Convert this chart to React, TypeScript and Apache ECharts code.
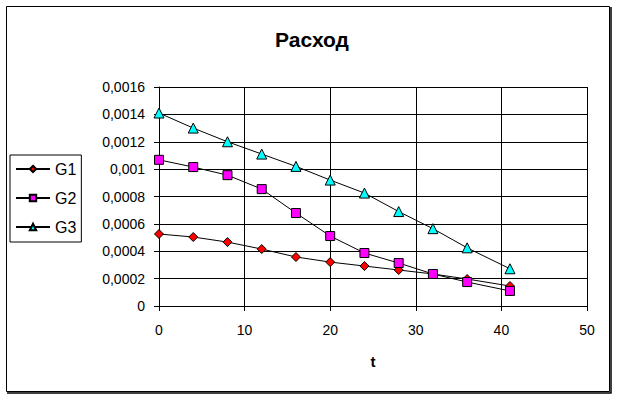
import React, { useEffect, useRef } from "react";
import * as echarts from "echarts";

const tValues = [0, 4, 8, 12, 16, 20, 24, 28, 32, 36, 41];
const g1 = [0.000526, 0.000504, 0.000467, 0.000416, 0.000358, 0.000321, 0.000292, 0.000263, 0.000234, 0.000197, 0.000146];
const g2 = [0.001068, 0.001015, 0.000956, 0.000854, 0.000679, 0.000511, 0.000387, 0.000314, 0.000234, 0.000175, 0.00011];
const g3 = [0.00141, 0.0013, 0.0012, 0.00111, 0.00102, 0.00092, 0.000825, 0.00069, 0.000565, 0.000425, 0.000272];
const seriesNames = ["G1", "G2", "G3"];
const title = "Расход";
const xName = "t";

const FONT = "Liberation Sans, Arial, sans-serif";

export default function App() {
  const ref = useRef<HTMLDivElement>(null);
  useEffect(() => {
    if (!ref.current) return;
    const chart = echarts.init(ref.current, undefined, { renderer: "svg" });
    const pairs = (ys: number[]) => tValues.map((t, i) => [t, ys[i]]);
    const mk = (name: string, ys: number[], symbol: string, size: number, color: string) => ({
      name,
      type: "line",
      data: pairs(ys),
      symbol,
      symbolSize: size,
      showSymbol: true,
      lineStyle: { color: "#000", width: 1 },
      itemStyle: { color, borderColor: "#000", borderWidth: 1 },
      emphasis: { disabled: true },
      z: 3,
    });
    chart.setOption({
      animation: false,
      backgroundColor: "#fff",
      textStyle: { fontFamily: FONT, color: "#000" },
      title: {
        text: title,
        left: 307,
        textAlign: "center",
        top: 24,
        textStyle: { fontFamily: FONT, fontSize: 21, fontWeight: "bold", color: "#000" },
      },
      graphic: [
        {
          type: "rect",
          shape: { x: 6.5, y: 6.5, width: 603, height: 385 },
          style: { fill: "none", stroke: "#000", lineWidth: 1 },
          z: 0,
        },
        {
          type: "polyline",
          shape: { points: [[611, 7], [611, 393], [7, 393]] },
          style: { fill: "none", stroke: "#000", lineWidth: 1.5 },
          z: 0,
        },
      ],
      legend: {
        orient: "vertical",
        left: 10,
        top: 155,
        padding: [6, 5, 7, 5],
        itemGap: 13,
        itemWidth: 34,
        itemHeight: 8,
        borderColor: "#000",
        borderWidth: 1,
        data: seriesNames,
        textStyle: { fontFamily: FONT, fontSize: 16, color: "#000" },
      },
      grid: { left: 159, right: 30, top: 87, bottom: 93 },
      xAxis: {
        type: "value",
        min: 0,
        max: 50,
        interval: 10,
        name: xName,
        nameLocation: "middle",
        nameGap: 48,
        nameTextStyle: { fontFamily: FONT, fontSize: 15, fontWeight: "bold", color: "#000" },
        axisLine: { show: true, lineStyle: { color: "#000", width: 1 } },
        axisTick: { show: true, inside: false, length: 5, lineStyle: { color: "#000" } },
        axisLabel: { margin: 17, fontFamily: FONT, fontSize: 14, color: "#000" },
        splitLine: { show: true, lineStyle: { color: "#000", width: 1 } },
      },
      yAxis: {
        type: "value",
        min: 0,
        max: 0.0016,
        interval: 0.0002,
        axisLine: { show: true, lineStyle: { color: "#000", width: 1 } },
        axisTick: { show: true, inside: false, length: 5, lineStyle: { color: "#000" } },
        axisLabel: {
          margin: 14,
          fontFamily: FONT,
          fontSize: 14,
          color: "#000",
          formatter: (v: number) => {
            if (Math.abs(v) < 1e-12) return "0";
            return v.toFixed(4).replace(/0+$/, "").replace(".", ",");
          },
        },
        splitLine: { show: true, lineStyle: { color: "#000", width: 1 } },
      },
      series: [
        mk("G1", g1, "diamond", 9, "#ff0000"),
        mk("G2", g2, "rect", 9, "#ff00ff"),
        mk("G3", g3, "triangle", 10, "#00ffff"),
      ],
    });
    return () => chart.dispose();
  }, []);
  return (
    <div
      ref={ref}
      style={{ position: "fixed", left: 0, top: 0, width: 617, height: 399 }}
    />
  );
}
